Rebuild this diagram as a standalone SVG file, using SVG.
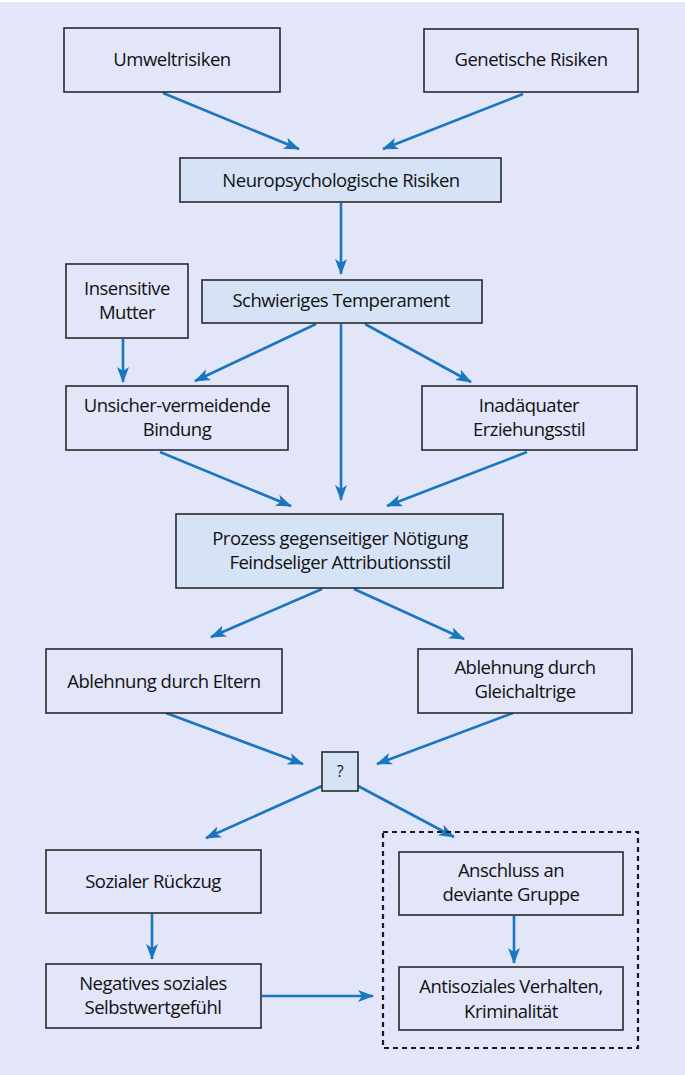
<svg xmlns="http://www.w3.org/2000/svg" width="685" height="1075" viewBox="0 0 685 1075">
<style>
.bx{fill:#e2e6f8;stroke:#2a2a2a;stroke-width:1.6}
.hl{fill:#d6e3f6;stroke:#2a2a2a;stroke-width:1.6}
.t{font-family:"Open Sans","Liberation Sans",sans-serif;font-size:18.5px;fill:#111111;text-anchor:middle;letter-spacing:-0.5px}
.c{fill:none;stroke:#1a77bf;stroke-width:2.6}
</style>
<defs>
<marker id="ah" viewBox="0 0 16 12" refX="15" refY="6" markerWidth="16" markerHeight="12" markerUnits="userSpaceOnUse" orient="auto">
<path d="M0,0 L16,6 L0,12 L4,6 Z" fill="#1a77bf"/>
</marker>
</defs>
<rect x="0" y="0" width="685" height="1075" fill="#e2e6f8"/>
<rect x="0" y="0" width="685" height="2" fill="#ffffff"/>
<g id="connectors">
<line class="c" x1="163" y1="93" x2="299" y2="149" marker-end="url(#ah)"/>
<line class="c" x1="523" y1="94" x2="383" y2="149" marker-end="url(#ah)"/>
<line class="c" x1="341" y1="203" x2="341" y2="274" marker-end="url(#ah)"/>
<line class="c" x1="123" y1="339" x2="123" y2="382" marker-end="url(#ah)"/>
<line class="c" x1="316" y1="324" x2="195" y2="381" marker-end="url(#ah)"/>
<line class="c" x1="365" y1="324" x2="471" y2="382" marker-end="url(#ah)"/>
<line class="c" x1="341" y1="324" x2="341" y2="500" marker-end="url(#ah)"/>
<line class="c" x1="160" y1="452" x2="291" y2="506" marker-end="url(#ah)"/>
<line class="c" x1="527" y1="452" x2="387" y2="506" marker-end="url(#ah)"/>
<line class="c" x1="322" y1="589" x2="211" y2="637" marker-end="url(#ah)"/>
<line class="c" x1="354" y1="589" x2="464" y2="639" marker-end="url(#ah)"/>
<line class="c" x1="166" y1="713" x2="303" y2="764" marker-end="url(#ah)"/>
<line class="c" x1="513" y1="713" x2="377" y2="764" marker-end="url(#ah)"/>
<line class="c" x1="322" y1="786" x2="206" y2="838" marker-end="url(#ah)"/>
<line class="c" x1="358" y1="786" x2="454" y2="837" marker-end="url(#ah)"/>
<line class="c" x1="152" y1="914" x2="152" y2="959" marker-end="url(#ah)"/>
<line class="c" x1="262" y1="996" x2="373" y2="996" marker-end="url(#ah)"/>
<line class="c" x1="514" y1="916" x2="514" y2="963" marker-end="url(#ah)"/>
</g>
<g id="group-deviant">
<rect x="383" y="832" width="255" height="216" fill="none" stroke="#1a1a1a" stroke-width="2.2" stroke-dasharray="5,4"/>
</g>
<g id="umwelt"><rect class="bx" x="64" y="28" width="216" height="64"/><text class="t" x="172" y="66">Umweltrisiken</text></g>
<g id="genetisch"><rect class="bx" x="424" y="29" width="214" height="63"/><text class="t" x="531" y="66">Genetische Risiken</text></g>
<g id="neuro"><rect class="hl" x="180" y="158" width="321" height="44"/><text class="t" x="341" y="187">Neuropsychologische Risiken</text></g>
<g id="mutter"><rect class="bx" x="66" y="264" width="122" height="74"/><text class="t" x="127" y="295">Insensitive</text><text class="t" x="127" y="319">Mutter</text></g>
<g id="temperament"><rect class="hl" x="202" y="280" width="280" height="43"/><text class="t" x="341" y="307">Schwieriges Temperament</text></g>
<g id="bindung"><rect class="bx" x="66" y="386" width="222" height="64"/><text class="t" x="177" y="412">Unsicher-vermeidende</text><text class="t" x="177" y="436">Bindung</text></g>
<g id="erziehung"><rect class="bx" x="422" y="386" width="215" height="64"/><text class="t" x="529" y="412">Inadäquater</text><text class="t" x="529" y="436">Erziehungsstil</text></g>
<g id="prozess"><rect class="hl" x="176" y="514" width="327" height="74"/><text class="t" x="340" y="545">Prozess gegenseitiger Nötigung</text><text class="t" x="340" y="569">Feindseliger Attributionsstil</text></g>
<g id="eltern"><rect class="bx" x="46" y="649" width="236" height="64"/><text class="t" x="164" y="688">Ablehnung durch Eltern</text></g>
<g id="gleichaltrige"><rect class="bx" x="418" y="649" width="214" height="64"/><text class="t" x="525" y="674">Ablehnung durch</text><text class="t" x="525" y="698">Gleichaltrige</text></g>
<g id="frage"><rect class="hl" x="322" y="752" width="36" height="39"/><text class="t" x="340" y="777" style="font-size:16px">?</text></g>
<g id="rueckzug"><rect class="bx" x="46" y="850" width="215" height="63"/><text class="t" x="153" y="888">Sozialer Rückzug</text></g>
<g id="selbstwert"><rect class="bx" x="46" y="964" width="215" height="64"/><text class="t" x="153" y="990">Negatives soziales</text><text class="t" x="153" y="1014">Selbstwertgefühl</text></g>
<g id="anschluss"><rect class="bx" x="399" y="852" width="224" height="63"/><text class="t" x="511" y="877">Anschluss an</text><text class="t" x="511" y="901">deviante Gruppe</text></g>
<g id="antisozial"><rect class="bx" x="399" y="967" width="224" height="63"/><text class="t" x="511" y="993">Antisoziales Verhalten,</text><text class="t" x="511" y="1018">Kriminalität</text></g>
</svg>
